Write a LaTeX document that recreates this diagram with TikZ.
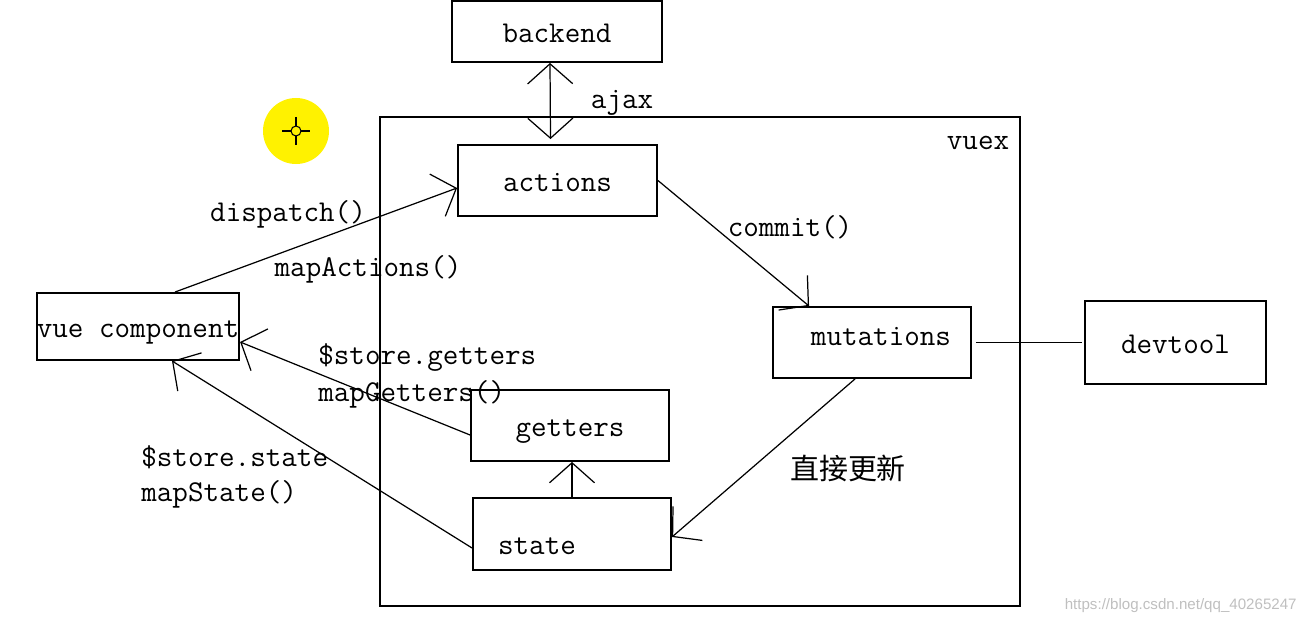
\documentclass[tikz,border=0pt]{standalone}
\usepackage{fontspec}
\newfontfamily\cjkfont{Noto Sans CJK SC}
\newfontfamily\markfont{Liberation Sans}
\usetikzlibrary{arrows.meta}
\begin{document}
\begin{tikzpicture}[x=0.02cm, y=-0.02cm,
    box/.style={draw, line width=1.1pt, inner sep=0, text height=12.5pt, text depth=0pt,
      font=\ttfamily\fontsize{17.2}{20}\selectfont},
    lbl/.style={inner sep=0, font=\ttfamily\fontsize{17.2}{20}\selectfont},
    barb/.tip={Straight Barb[length=0.4cm, width=0.9cm]},
    arr/.style={line width=0.7pt, -{barb}}]
      \useasboundingbox (0,0) rectangle (1305,625);
      % CURSOR
      \fill[yellow] (296,131) circle (33);
      \draw[line width=0.6pt] (296,131) circle (5);
      \draw[line width=0.6pt] (282,131) -- (291,131) (301,131) -- (310,131)
        (296,117) -- (296,126) (296,136) -- (296,145);
      % VUEX FRAME
      \draw[line width=1.1pt] (380,117) rectangle (1020,606);
      \node[lbl] (vuex) at (978,143) {vuex};
      % BOXES
      \node[box, minimum width=4.2cm, minimum height=1.22cm] (backend) at (557,31.5) {backend};
      \node[box, minimum width=3.98cm, minimum height=1.42cm] (actions) at (557.5,180.5) {actions};
      \node[box, minimum width=3.96cm, minimum height=1.42cm] (mutations) at (872,342.5) {};
      \node[lbl] (mutT) at (881,337) {mutations};
      \node[box, minimum width=3.62cm, minimum height=1.66cm] (devtool) at (1175.5,342.5) {devtool};
      \node[box, minimum width=4.0cm, minimum height=1.34cm] (vue) at (138,326.5) {vue component};
      \node[box, minimum width=3.96cm, minimum height=1.42cm] (getters) at (570,425.5) {getters};
      \node[box, minimum width=3.96cm, minimum height=1.44cm] (state) at (572,534) {};
      \node[lbl] (stateT) at (537,546) {state};
      % CONNECTORS
      \draw[line width=0.7pt, {barb}-{barb}] ([xshift=-0.14cm]backend.south) -- ([xshift=-0.14cm, yshift=0.1cm]actions.north);
      \draw[arr] ([xshift=0.74cm]vue.north) -- ([yshift=-0.15cm]actions.west);
      \draw[arr] (actions.east) -- ([xshift=0.74cm]mutations.north west);
      \draw[arr] ([xshift=-0.34cm]mutations.south) -- ([yshift=-0.06cm]state.east);
      \draw[line width=0.7pt] ([xshift=0.08cm]mutations.east) -- ([xshift=-0.04cm]devtool.west);
      \draw[arr] ([yshift=-0.19cm]getters.west) -- ([yshift=-0.31cm]vue.east);
      \draw[arr] ([yshift=-0.28cm]state.west) -- ([xshift=0.68cm]vue.south);
      \draw[arr] (state.north) -- (state.north |- getters.south);
      % LABELS
      \node[lbl] (ajax) at (622,103) {ajax};
      \node[lbl] (dispatch) at (288,214) {dispatch()};
      \node[lbl] (mapActions) at (368,269) {mapActions()};
      \node[lbl] (commit) at (790,227) {commit()};
      \node[lbl, anchor=west] (sGetters) at (318,357) {\$store.getters};
      \node[lbl, anchor=west] (mapGetters) at (318,394) {mapGetters()};
      \node[lbl, anchor=west] (sState) at (141,457) {\$store.state};
      \node[lbl, anchor=west] (mapState) at (141,494) {mapState()};
      \node[inner sep=0, font=\cjkfont\fontsize{16.5}{20}\selectfont] (update) at (848,468) {直接更新};
      % WATERMARK
      \node[inner sep=0, anchor=east, text=black!25, font=\markfont\fontsize{8.6}{10}\selectfont] (mark) at (1297,606) {https://blog.csdn.net/qq\_40265247};
\end{tikzpicture}
\end{document}
